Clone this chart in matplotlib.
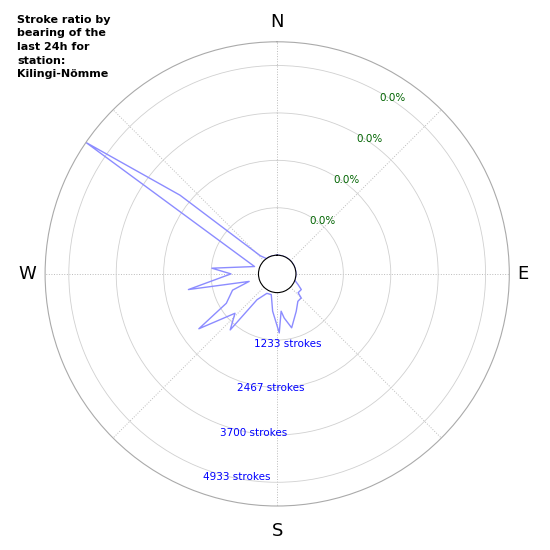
import numpy as np
import matplotlib.pyplot as plt

# bearings (deg, clockwise from north) and stroke counts
bearings = [0, 10, 20, 30, 40, 50, 60, 70, 80, 90, 100, 110,
            117, 123, 132, 135, 143, 153, 165, 171, 174, 178, 187, 196,
            208, 218, 220, 227, 235, 240, 250, 255, 260, 270, 275, 288,
            304.5, 309, 317, 325, 335, 345, 360]
strokes = [0, 0, 0, 0, 0, 0, 0, 0, 0, 0, 0, 0,
           120, 260, 245, 396, 406, 604, 965, 674, 489, 1049, 489, 73,
           86, 364, 1415, 1015, 2001, 1041, 749, 268, 1858, 716, 1218, 133,
           5550, 2766, 159, 0, 0, 0, 0]

ring_values = [1233, 2467, 3700, 4933]
ring_labels = ['1233 strokes', '2467 strokes', '3700 strokes', '4933 strokes']
ratio_labels = ['0.0%', '0.0%', '0.0%', '0.0%']
compass = ['N', 'E', 'S', 'W']
title = 'Stroke ratio by\nbearing of the\nlast 24h for\nstation:\nKilingi-Nömme'

fig = plt.figure(figsize=(5.5, 5.5), dpi=100)
ax = fig.add_axes([0.082, 0.080, 0.844, 0.844], projection='polar')
ax.set_theta_zero_location('N')
ax.set_theta_direction(-1)

ax.plot(np.radians(bearings), strokes, color='#8c8cff', lw=1)
ax.set_ylim(0, max(strokes))
ax.set_rorigin(-487)

ax.set_yticks(ring_values)
ax.set_yticklabels([])
ax.set_xticks(np.radians(np.arange(0, 360, 45)))
ax.set_xticklabels([])

ax.xaxis.grid(True, color='#bbbbbb', linestyle=':', lw=0.7)
ax.yaxis.grid(True, color='#d0d0d0', linestyle='-', lw=0.6)
ax.spines['polar'].set_color('#aaaaaa')
ax.spines['polar'].set_linewidth(0.8)
ax.spines['inner'].set_color('black')
ax.spines['inner'].set_linewidth(0.8)

# compass letters just outside the circle
compass_pos = [(0.5, 1.043), (1.030, 0.5), (0.5, -0.054), (-0.039, 0.5)]
for (x, y), lab in zip(compass_pos, compass):
    ax.text(x, y, lab, transform=ax.transAxes, fontsize=13, ha='center', va='center')

# ring labels
for v, lab in zip(ring_values, ring_labels):
    ax.annotate(lab, (np.radians(201), v), xytext=(0, -2.5), textcoords='offset points',
                color='blue', fontsize=7.5, ha='left', va='top')
for v, lab in zip(ring_values, ratio_labels):
    ax.text(np.radians(29.5), v, lab, color='darkgreen', fontsize=7.5, ha='left', va='top')

fig.text(0.031, 0.973, title, fontsize=8, fontweight='bold', ha='left', va='top',
         linespacing=1.45)

fig.savefig('out.png', dpi=100)
